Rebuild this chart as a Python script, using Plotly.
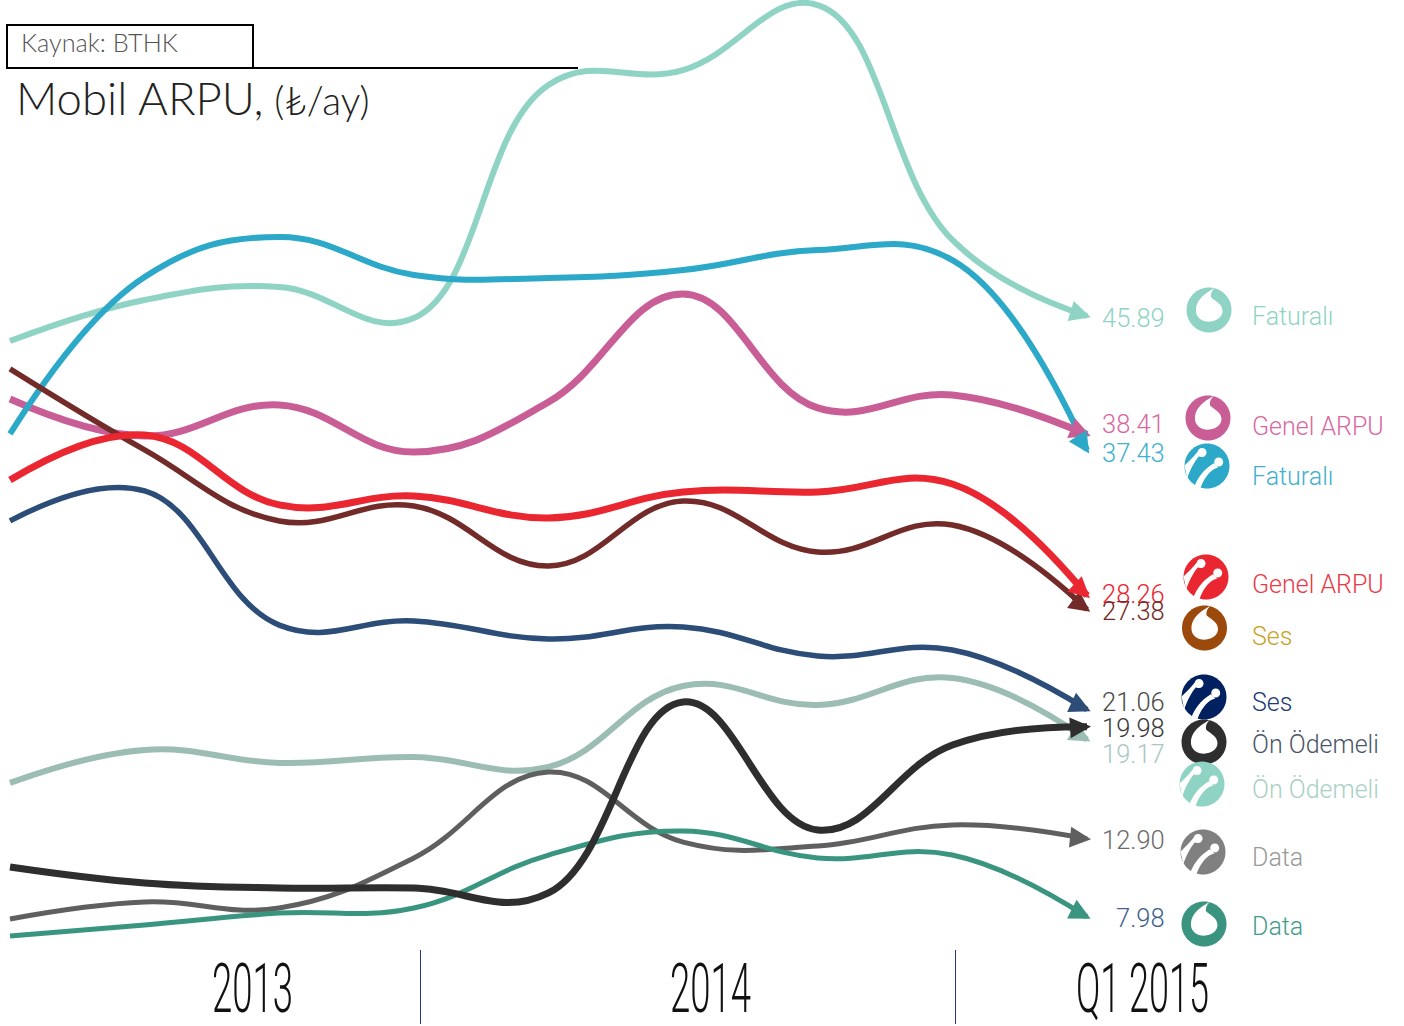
import math
import plotly.graph_objects as go

W, H = 1404, 1026
quarters = ["Q1 2013", "Q2 2013", "Q3 2013", "Q4 2013", "Q1 2014", "Q2 2014", "Q3 2014", "Q4 2014", "Q1 2015"]

# ARPU values, TL per month
turkcell_data = [7.85, 8.92, 8.54, 11.70, 17.12, 12.70, 12.45, 13.78, 12.90]
voda_data = [6.77, 7.47, 8.22, 8.54, 11.88, 13.40, 11.70, 11.88, 7.98]
voda_on = [11.13, 10.12, 9.80, 9.80, 9.49, 21.54, 13.46, 18.82, 19.98]
turkcell_on = [16.43, 18.51, 17.69, 18.07, 17.44, 22.55, 21.35, 23.05, 19.17]
turkcell_ses = [32.96, 34.85, 26.39, 26.65, 25.51, 26.27, 24.44, 24.82, 21.06]
voda_ses = [42.55, 37.44, 32.96, 33.90, 30.12, 34.22, 31.00, 32.70, 27.38]
turkcell_genel = [35.54, 38.38, 33.97, 34.53, 33.15, 34.79, 34.79, 35.29, 28.26]
voda_genel = [40.65, 38.32, 40.28, 37.31, 40.46, 47.28, 40.09, 40.91, 38.41]
turkcell_fat = [38.45, 48.35, 50.88, 48.48, 48.29, 48.79, 50.05, 49.42, 37.43]
voda_fat = [44.31, 46.90, 47.72, 45.76, 60.47, 61.41, 65.51, 50.69, 45.89]

value_labels = ["45.89", "38.41", "37.43", "28.26", "27.38", "21.06", "19.98", "19.17", "12.90", "7.98"]
legend_labels = ["Faturalı", "Genel ARPU", "Faturalı", "Genel ARPU", "Ses", "Ses", "Ön Ödemeli", "Ön Ödemeli", "Data", "Data"]
period_labels = ["2013", "2014", "Q1 2015"]

# name, values, colour, width, arrow angle
series = [
    ("Vodafone Faturalı", voda_fat, "#8FD3C5", 6, 107),
    ("Vodafone Genel ARPU", voda_genel, "#C95E97", 7, 112),
    ("Turkcell Faturalı", turkcell_fat, "#2CA8C8", 6, 147),
    ("Vodafone Ses", voda_ses, "#722B28", 5.5, 126),
    ("Turkcell Genel ARPU", turkcell_genel, "#EA2631", 7, 133),
    ("Turkcell Ses", turkcell_ses, "#2B4D78", 5.5, 115),
    ("Turkcell Ön Ödemeli", turkcell_on, "#9CBDB3", 6, 120),
    ("Turkcell Data", turkcell_data, "#5F5F5F", 5, 96),
    ("Vodafone Data", voda_data, "#3A9580", 5, 117),
    ("Vodafone Ön Ödemeli", voda_on, "#2E2E2E", 7, 86),
]

shapes = []
annos = []

fig = go.Figure()
for name, vals, col, lw, ang in series:
    fig.add_trace(go.Scatter(
        x=quarters, y=vals, name=name, mode="lines",
        line=dict(color=col, width=lw, shape="spline", smoothing=1.2),
        cliponaxis=False, showlegend=False,
    ))
    a = math.radians(ang)
    dx, dy = math.sin(a), -math.cos(a)
    annos.append(dict(
        xref="x", yref="y", x=quarters[-1], y=vals[-1], text="", showarrow=True,
        ax=-dx * 24, ay=-dy * 24, axref="pixel", ayref="pixel",
        xshift=dx * 4, yshift=-dy * 4,
        arrowhead=2, arrowwidth=2, arrowsize=2.1, arrowcolor=col,
    ))


def px(x):
    return x / W


def py(y):
    return 1 - y / H


def rect_line(x0, y0, x1, y1, color, w):
    shapes.append(dict(type="line", xref="paper", yref="paper", x0=px(x0), y0=py(y0), x1=px(x1), y1=py(y1),
                       line=dict(color=color, width=w), layer="below"))


def upath(cx, cy, r, segs):
    out = []
    for seg in segs:
        cmd, pts = seg[0], seg[1:]
        coords = " ".join(f"{px(cx + r * pts[i]):.5f},{py(cy - r * pts[i + 1]):.5f}" for i in range(0, len(pts), 2))
        out.append(cmd + " " + coords if coords else cmd)
    return " ".join(out)


def blob(cx, cy, r, u, v, rr):
    k = 0.5523 * rr
    return upath(cx, cy, r, [
        ("M", u + rr, v), ("C", u + rr, v + k, u + k, v + rr, u, v + rr),
        ("C", u - k, v + rr, u - rr, v + k, u - rr, v), ("C", u - rr, v - k, u - k, v - rr, u, v - rr),
        ("C", u + k, v - rr, u + rr, v - k, u + rr, v), ("Z",)])


def fill(path, color):
    shapes.append(dict(type="path", xref="paper", yref="paper", path=path, fillcolor=color,
                       line=dict(width=0), layer="above"))


def voda(cx, cy, color, r=22.5):
    fill(blob(cx, cy, r, 0, 0, 1), color)
    fill(upath(cx, cy, r, [("M", .25, .98), ("C", -.1, .78, -.58, .5, -.58, -.03),
                           ("C", -.58, -.32, -.32, -.52, 0, -.52), ("C", .33, -.52, .6, -.32, .6, -.05),
                           ("C", .6, .25, .3, .38, .1, .55), ("C", .05, .68, .12, .85, .25, .98), ("Z",)]), "white")


def tcell(cx, cy, color, r=22.5):
    fill(blob(cx, cy, r, 0, 0, 1), color)
    fill(upath(cx, cy, r, [("M", -1.0, .02), ("C", -.8, .2, -.6, .4, -.42, .63), ("L", -.15, .42), ("L", -.37, .42),
                           ("C", -.55, .2, -.72, -.1, -.88, -.55), ("Z",)]), "white")
    fill(upath(cx, cy, r, [("M", -.55, -.88), ("C", -.42, -.55, -.15, -.15, .3, .12), ("L", .5, -.07),
                           ("C", .25, -.12, -.08, -.4, -.3, -1.0), ("Z",)]), "white")
    for u, v in [(-.22, .6), (.52, .18)]:
        fill(blob(cx, cy, r, u, v, .2), "white")


def text(x, y, s, size, color, anchor="left", font="Roboto", weight=300):
    annos.append(dict(xref="paper", yref="paper", x=px(x), y=py(y), text=s, showarrow=False,
                      xanchor=anchor, yanchor="middle",
                      font=dict(family=font, size=size, color=color, weight=weight)))


# source box and rule
rect_line(7, 25, 253, 25, "black", 2)
rect_line(7, 68, 578, 68, "black", 2)
rect_line(7, 24, 7, 69, "black", 2)
rect_line(253, 24, 253, 69, "black", 2)
rect_line(420.5, 950, 420.5, 1024, "#1F3A80", 1)
rect_line(955.5, 950, 955.5, 1024, "#1F3A80", 1)

text(19, 42, "Kaynak: BTHK", 25.3, "#555555", font="Lato")
text(14, 97, "Mobil ARPU,<span style='font-size:39px'> (₺/ay)</span>", 45.5, "#222222", font="Lato")

val_y = [318, 424, 453, 594, 611, 702, 728, 754, 840, 918]
val_col = ["#8FD3C5", "#D9689F", "#3FB0CE", "#EA2631", "#722B28", "#4A4A4A", "#3A3A3A", "#A9C8BF", "#6B6B6B", "#3F5F90"]
for y, s, c in zip(val_y, value_labels, val_col):
    text(1167, y, s, 25.5, c, "right")

leg_y = [316, 426, 476, 584, 636, 702, 744, 789, 857, 926]
leg_col = ["#8FD3C5", "#D9689F", "#3FB0CE", "#EA3A45", "#C9A227", "#203A78", "#4A5568", "#A9D0C5", "#999999", "#3F9C8A"]
for y, s, c in zip(leg_y, legend_labels, leg_col):
    text(1250, y, s, 25, c)

voda(1209, 310, "#8FD3C5")
voda(1208, 418, "#C95E97")
tcell(1207, 466, "#2CA8C8")
tcell(1206, 577, "#EA2631")
voda(1204.5, 628, "#9C4A0C")
tcell(1204, 697, "#00205F")
voda(1204, 742, "#2E2E2E")
tcell(1202, 784, "#8FD3C5")
tcell(1203, 852, "#808080")
voda(1204, 924, "#3A9480")

for x, s in zip([252, 710, 1142], period_labels):
    text(x, 988, s, 69, "#111111", "center", "Roboto", 300)

step = (1087 - 10) / 8
fig.update_layout(
    width=W, height=H, margin=dict(l=0, r=0, t=0, b=0), autosize=False,
    paper_bgcolor="white", plot_bgcolor="white",
    shapes=shapes, annotations=annos,
    xaxis=dict(visible=False, type="category", categoryorder="array", categoryarray=quarters,
               range=[-10 / step, (W - 10) / step]),
    yaxis=dict(visible=False, range=[45.89 - (H - 316) / 15.85, 45.89 + 316 / 15.85]),
)

post = """
document.body.style.margin='0';
var widths={'2013':81,'2014':81,'Q1 2015':133};
document.querySelectorAll('.annotation-text').forEach(function(t){
  var w=widths[t.textContent];
  if(w){t.setAttribute('textLength',w);t.setAttribute('lengthAdjust','spacingAndGlyphs');}
});
"""
fig.write_html("out.html", post_script=post, config={"displayModeBar": False})
